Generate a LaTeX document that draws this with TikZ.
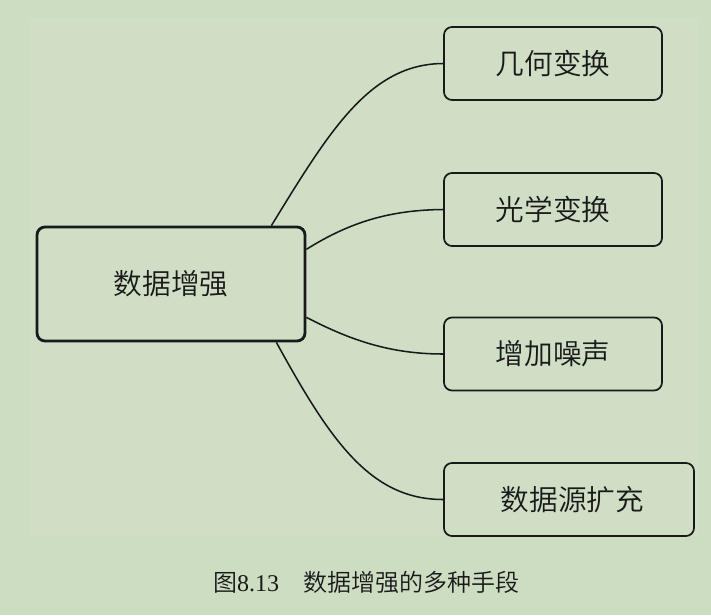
\documentclass[tikz,border=0pt]{standalone}
\usepackage{fontspec}
\newfontfamily\cjk{Noto Sans CJK SC}[UprightFont=* DemiLight]
\newfontfamily\latinserif{Liberation Serif}
\definecolor{bgout}{RGB}{205,221,194}
\definecolor{bgin}{RGB}{207,222,197}
\definecolor{ink}{RGB}{25,25,25}
\tikzset{
  box/.style={draw=ink, rounded corners=6pt, line width=1.3pt, minimum height=54.75pt,
    inner sep=0pt, font=\cjk\fontsize{21.5pt}{24pt}\selectfont, text=ink},
  mainbox/.style={box, line width=2.1pt, minimum width=201pt, minimum height=85.5pt},
  link/.style={draw=ink, line width=1.15pt},
}
\begin{document}
\begin{tikzpicture}[x=0.75pt,y=-0.75pt]
\useasboundingbox (0,0) rectangle (711,615);
\fill[bgout] (0,0) rectangle (711,615);
\fill[bgin] (29,18) rectangle (699,536);
\node[mainbox] (main) at (171,284) {数据增强\hspace{3pt}};
\node[box, minimum width=163.5pt] (b1) at (553,63.5) {几何变换\hspace{15pt}};
\node[box, minimum width=163.5pt] (b2) at (553,209.5) {光学变换\hspace{14pt}};
\node[box, minimum width=163.5pt] (b3) at (553,354) {增加噪声\hspace{15pt}};
\node[box, minimum width=187.5pt] (b4) at (569,499.5) {\hspace{5pt}数据源扩充};
\coordinate (s1) at ([xshift=-26.25pt]main.north east);
\coordinate (s4) at ([xshift=-22.5pt]main.south east);
\coordinate (s2) at ([yshift=26pt]main.east);
\coordinate (s3) at ([yshift=-25pt]main.east);
\draw[link] (s1) .. controls (330,130) and (370,64) .. (b1.west);
\draw[link] (s2) .. controls (350,222) and (390,210) .. (b2.west);
\draw[link] (s3) .. controls (350,340) and (390,354) .. (b3.west);
\draw[link] (s4) .. controls (330,440) and (370,499.5) .. (b4.west);
\node[text=ink, inner sep=0pt] (cap) at (366,582) {\cjk\fontsize{18pt}{20pt}\selectfont 图{\latinserif 8.13}\hspace{1em}数据增强的多种手段};
\end{tikzpicture}
\end{document}
